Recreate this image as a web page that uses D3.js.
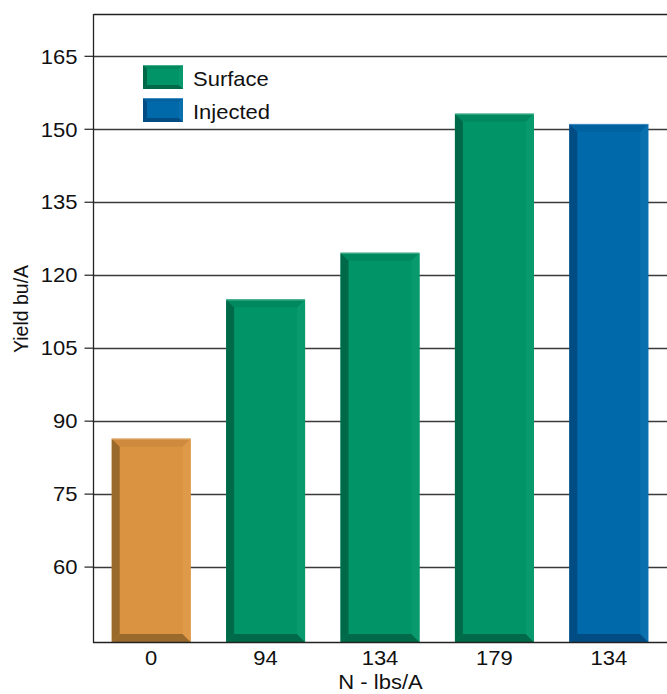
<!DOCTYPE html>
<html>
<head>
<meta charset="utf-8">
<script src="https://cdn.jsdelivr.net/npm/d3@7"></script>
<style>
html,body{margin:0;padding:0;background:#fff;}
svg{display:block;font-family:"Liberation Sans",Arial,Helvetica,sans-serif;}
</style>
</head>
<body>
<svg id="chart" width="667" height="694"></svg>
<script>
// ---- data ----
const categories = ["0", "94", "134", "179", "134"];
const yields = [86.3, 114.9, 124.5, 153.1, 151.0];
const groups = ["control", "surface", "surface", "surface", "injected"];
const yTicks = [60, 75, 90, 105, 120, 135, 150, 165];
const legendLabels = ["Surface", "Injected"];
const legendGroups = ["surface", "injected"];
const xTitle = "N - lbs/A";
const yTitle = "Yield bu/A";

// ---- styles ----
const palette = {
  control:  {face:"#DA9441", top:"#CF8A3D", left:"#9A6A2C", bottom:"#9A6A2C", right:"#DE9A49", hi:"#E6B27A"},
  surface:  {face:"#009467", top:"#00895F", left:"#006A48", bottom:"#006A48", right:"#08996D", hi:"#5CBF9C"},
  injected: {face:"#0069A9", top:"#0063A0", left:"#004C83", bottom:"#004C83", right:"#0A70AE", hi:"#5A9CCB"}
};
const SX = 1.1; // horizontal stretch of the reference typography
const FS = 20;
const L = 94, R = 667, T = 14, B = 642;

const svg = d3.select("#chart");
const x = d3.scaleBand().domain(d3.range(categories.length)).range([94, 666]).paddingInner(0.31).paddingOuter(0.155);
const y = d3.scaleLinear().domain([44.5, 173.6]).range([B, T]);

// grid lines
svg.append("g").selectAll("line").data(yTicks).join("line")
  .attr("x1", L).attr("x2", R)
  .attr("y1", d => Math.round(y(d)) + 0.5).attr("y2", d => Math.round(y(d)) + 0.5)
  .attr("stroke", "#3a3a3a").attr("stroke-width", 1.4);

// top border
svg.append("line").attr("x1", L).attr("x2", R).attr("y1", T + 0.5).attr("y2", T + 0.5)
  .attr("stroke", "#222").attr("stroke-width", 1.3);

// y axis
const yAxis = svg.append("g").attr("transform", `translate(${L - 0.5},0)`)
  .call(d3.axisLeft(y).tickValues(yTicks).tickSize(9).tickPadding(5.5).tickFormat(d3.format("d")));
yAxis.select(".domain").remove();
yAxis.selectAll(".tick line").attr("stroke", "#333").attr("stroke-width", 1.3);
yAxis.selectAll(".tick text")
  .attr("font-size", FS).attr("fill", "#111").attr("dy", "0.36em")
  .attr("font-family", '"Liberation Sans",Arial,sans-serif')
  .attr("transform", `scale(${SX},1)`);
svg.append("line").attr("x1", L - 0.5).attr("x2", L - 0.5).attr("y1", T).attr("y2", B + 1)
  .attr("stroke", "#222").attr("stroke-width", 1.3);

// bevelled bars
function bevelBar(g, x0, y0, w, h, col, bv) {
  const x1 = x0 + w, y1 = y0 + h;
  g.append("rect").attr("x", x0).attr("y", y0).attr("width", w).attr("height", h).attr("fill", col.face);
  const poly = (pts, fill) => g.append("polygon").attr("points", pts.map(p => p.join(",")).join(" ")).attr("fill", fill);
  poly([[x0, y0], [x1, y0], [x1 - bv, y0 + bv], [x0 + bv, y0 + bv]], col.top);
  poly([[x0, y0], [x0 + bv, y0 + bv], [x0 + bv, y1 - bv], [x0, y1]], col.left);
  poly([[x0, y1], [x0 + bv, y1 - bv], [x1 - bv, y1 - bv], [x1, y1]], col.bottom);
  poly([[x1, y0], [x1, y1], [x1 - bv, y1 - bv], [x1 - bv, y0 + bv]], col.right);
  g.append("line").attr("x1", x0).attr("x2", x1).attr("y1", y0 + 0.5).attr("y2", y0 + 0.5)
    .attr("stroke", col.hi).attr("stroke-width", 1).attr("opacity", 0.7);
}

const barsG = svg.append("g");
categories.forEach((c, i) => {
  const x0 = x(i), w = x.bandwidth();
  const y0 = y(yields[i]);
  bevelBar(barsG.append("g"), x0, y0, w, B - y0, palette[groups[i]], 8);
});

// bottom axis line
svg.append("line").attr("x1", L - 1).attr("x2", R).attr("y1", B + 0.5).attr("y2", B + 0.5)
  .attr("stroke", "#222").attr("stroke-width", 1.4);

// x labels
svg.append("g").selectAll("text").data(categories).join("text")
  .attr("transform", (d, i) => `translate(${x(i) + x.bandwidth() / 2},665) scale(${SX},1)`)
  .attr("text-anchor", "middle").attr("font-size", FS).attr("fill", "#111")
  .text(d => d);

// axis titles
svg.append("text")
  .attr("transform", `translate(${(L + R) / 2},689) scale(${SX},1)`)
  .attr("text-anchor", "middle").attr("font-size", FS).attr("fill", "#111")
  .text(xTitle);
svg.append("text")
  .attr("transform", `translate(28,309) rotate(-90)`)
  .attr("text-anchor", "middle").attr("font-size", 19.5).attr("fill", "#111")
  .text(yTitle);

// legend
const leg = svg.append("g");
legendLabels.forEach((lab, i) => {
  const ly = 65 + i * 33;
  bevelBar(leg.append("g"), 143, ly, 40, 24, palette[legendGroups[i]], 4);
  leg.append("text")
    .attr("transform", `translate(193,${ly + 20.5}) scale(${SX},1)`)
    .attr("font-size", FS).attr("fill", "#111").text(lab);
});
</script>
</body>
</html>
